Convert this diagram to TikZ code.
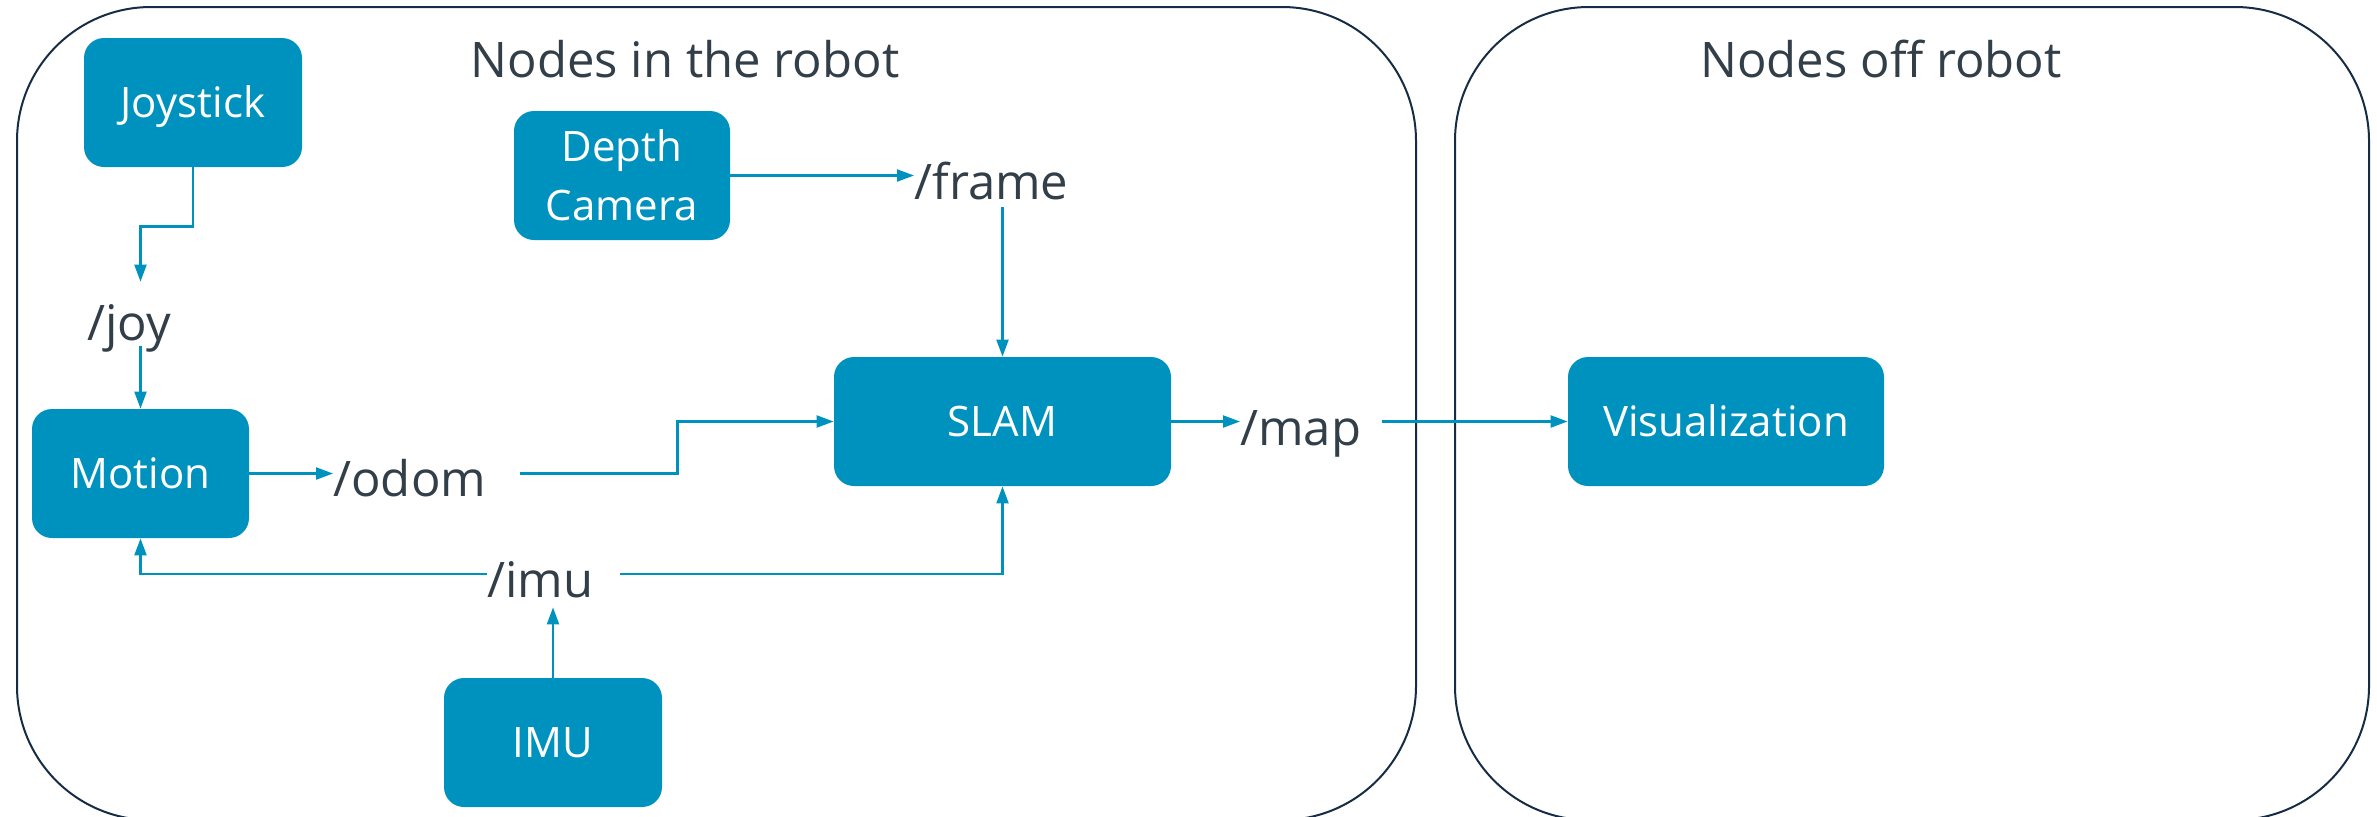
\documentclass[tikz,border=0pt]{standalone}
\usepackage{fontspec}
\setmainfont{Open Sans}
\usetikzlibrary{arrows.meta,calc}
\definecolor{nodeblue}{RGB}{0,146,190}
\definecolor{labelgray}{RGB}{50,62,72}
\definecolor{frameblue}{RGB}{22,44,68}

\begin{document}
\begin{tikzpicture}[x=0.5pt,y=-0.5pt,
  group/.style={draw=frameblue, line width=1pt, rounded corners=67pt},
  rosnode/.style={fill=nodeblue, text=white, rounded corners=10pt,
    minimum height=64.5pt, inner sep=0pt,
    font=\fontsize{21}{29.5}\selectfont, align=center},
  oneline/.style={text height=15pt, text depth=0pt},
  topic/.style={inner sep=0pt, anchor=base west, text height=18pt,
    text depth=3pt, text=labelgray, font=\fontsize{24.5}{29}\selectfont},
  heading/.style={anchor=base, text=labelgray, font=\fontsize{24.5}{29}\selectfont},
  conn/.style={draw=nodeblue, line width=1.1pt, -{Triangle[length=8.5pt,width=6pt]}}
]
\useasboundingbox (0,0) rectangle (2377,816);
\clip (0,0) rectangle (2377,816);

% the two machine groups
\draw[group] (17,7) rectangle (1416,820);
\draw[group] (1455,7) rectangle (2369,820);
\node[heading] (intitle) at (685,77) {Nodes in the robot};
\node[heading] (offtitle) at (1881,77) {Nodes off robot};

% ROS nodes
\node[rosnode, oneline, minimum width=109pt] (joystick) at (193,102.5) {Joystick};
\node[rosnode, minimum width=108pt] (depth) at (622,175.5) {Depth\\Camera};
\node[rosnode, oneline, minimum width=108.5pt] (motion) at (140.5,473.5) {Motion};
\node[rosnode, oneline, minimum width=168.5pt] (slam) at (1002.5,421.5) {SLAM};
\node[rosnode, oneline, minimum width=158pt] (vis) at (1726,421.5) {Visualization};
\node[rosnode, oneline, minimum width=109pt] (imu) at (553,742.5) {IMU};

% topics
\node[topic] (joy) at (87,340) {/joy};
\node[topic] (frame) at (914,199) {/frame};
\node[topic] (odom) at (333,496) {/odom};
\node[topic] (map) at (1240,445) {/map};
\node[topic] (imutopic) at (487,597) {/imu};

% publish / subscribe links
\draw[conn] (joystick.south) -- ++(0,59) -| ($(joy.north -| motion.north)+(0,-22)$);
\draw[conn] (joy.south -| motion.north) -- (motion.north);
\draw[conn] (depth.east) -- (depth.east -| frame.west);
\draw[conn] ($(frame.south -| slam.north)+(0,2)$) -- (slam.north);
\draw[conn] (motion.east) -- (motion.east -| odom.west);
\draw[conn] ($(odom.east |- motion.east)+(33,0)$) -- ++(158,0) |- (slam.west);
\draw[conn] (slam.east) -- (slam.east -| map.west);
\draw[conn] ($(map.east |- slam.east)+(20,0)$) -- (vis.west);
\draw[conn] (imu.north) -- ($(imu.north |- imutopic.south)+(0,4)$);
\draw[conn] ($(imutopic.base west)+(0,-23)$) -| (motion.south);
\draw[conn] ($(imutopic.base east)+(26,-23)$) -| (slam.south);
\end{tikzpicture}
\end{document}
